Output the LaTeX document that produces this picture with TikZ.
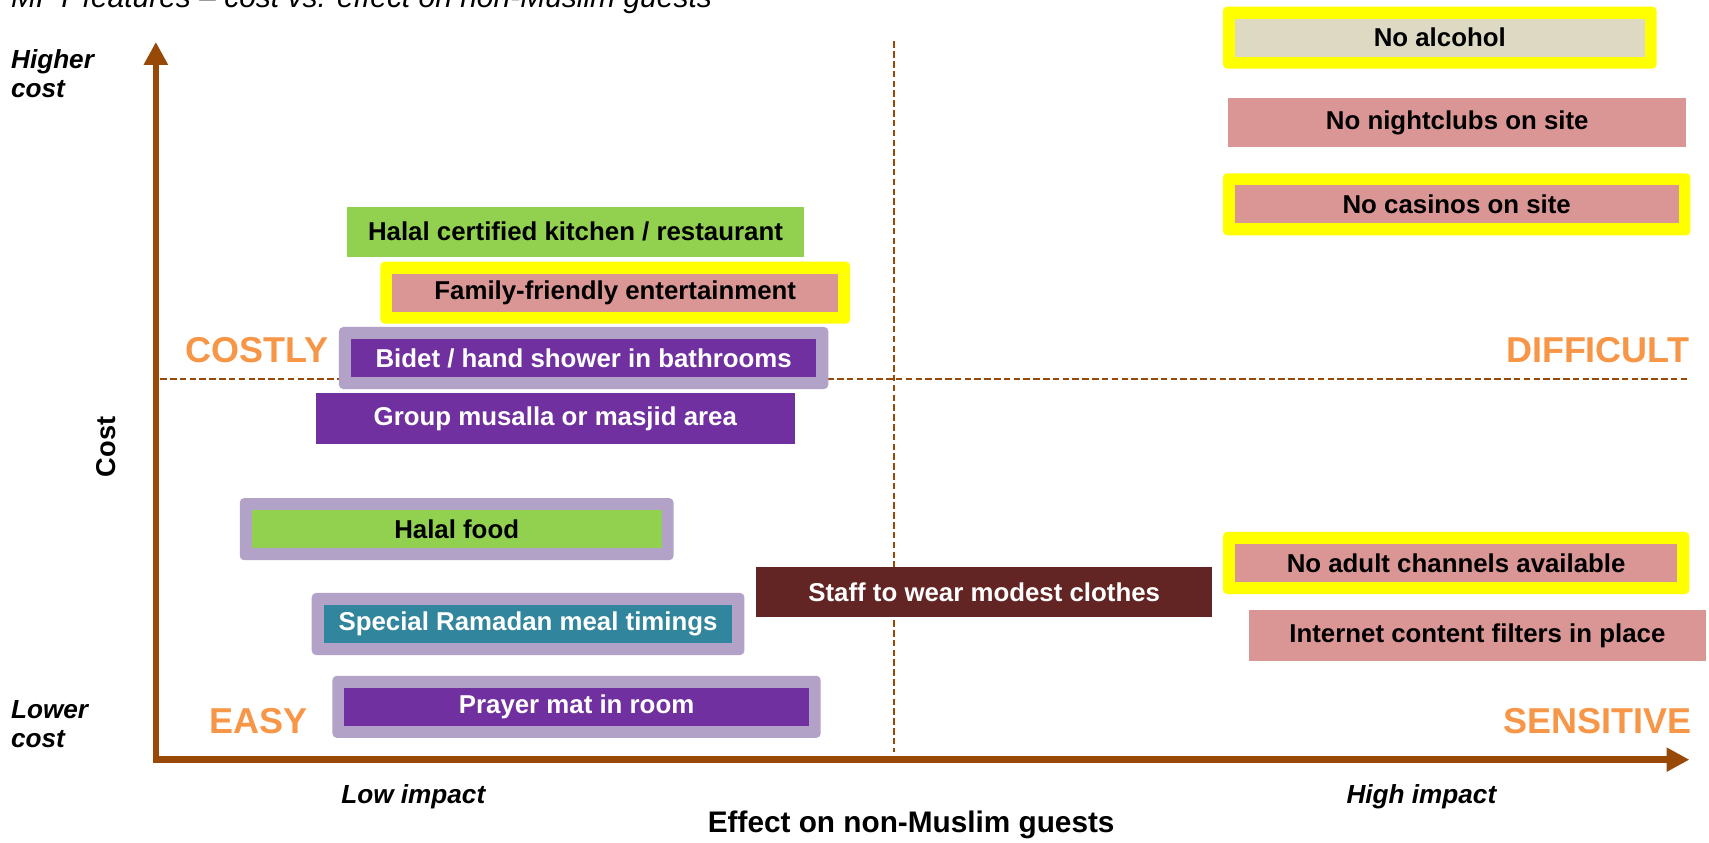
\documentclass[tikz,border=0pt]{standalone}
\usepackage{fontspec}
\setmainfont{Liberation Sans}
\usetikzlibrary{arrows.meta,fit}
\definecolor{axisbrown}{HTML}{984807}
\definecolor{quadorange}{HTML}{F79646}
\definecolor{beige}{HTML}{DDD9C3}
\definecolor{rose}{HTML}{D99694}
\definecolor{leaf}{HTML}{92D050}
\definecolor{violet}{HTML}{7030A0}
\definecolor{teal}{HTML}{31859C}
\definecolor{maroon}{HTML}{632523}
\definecolor{lavender}{HTML}{B3A2C7}
\definecolor{marker}{HTML}{FFFF00}
\pgfdeclarelayer{guides}
\pgfdeclarelayer{frames}
\pgfsetlayers{guides,frames,main}
\tikzset{
  item/.style={rectangle, inner sep=0, outer sep=0, text=black,
    font=\bfseries\fontsize{23.7}{28}\selectfont},
  light/.style={text=white},
  yframe/.style={rectangle, fill=marker, rounded corners=4, inner sep=11},
  lframe/.style={rectangle, fill=lavender, rounded corners=4, inner sep=11},
  quad/.style={inner sep=0, text=quadorange, font=\bfseries\fontsize{33}{39}\selectfont},
  side/.style={anchor=base west, inner sep=0, font=\bfseries\itshape\fontsize{24}{28}\selectfont},
  axis/.style={draw=axisbrown, line width=6, line join=miter,
    {Triangle[width=21pt,length=21pt]}-{Triangle[width=21pt,length=21pt]}},
  guide/.style={draw=axisbrown, line width=1.6, dash pattern=on 6pt off 3pt},
}
\begin{document}
\begin{tikzpicture}[x=1pt,y=-1pt]
\useasboundingbox (0,0) rectangle (1568,773);

% heading, cut by the top edge
\node[anchor=base west, inner sep=0, font=\itshape\fontsize{27.5}{33}\selectfont] (title) at (10,7)
  {MPT features – cost vs. effect on non-Muslim guests};

% quadrant guides
\coordinate (vtop) at (820,38);
\coordinate (vbot) at (820,690);
\coordinate (hleft) at (147,348);
\coordinate (hright) at (1550,348);
\begin{pgfonlayer}{guides}
  \draw[guide] (vtop) -- (vbot);
  \draw[guide] (hleft) -- (hright);
\end{pgfonlayer}

% axes
\coordinate (ytip) at (143,38.5);
\coordinate (origin) at (143,697);
\coordinate (xtip) at (1550,697);
\draw[axis] (ytip) -- (origin) -- (xtip);

% axis labels
\node[side] (hi1) at (10,63) {Higher};
\node[side] (hi2) at (10,89) {cost};
\node[side] (lo1) at (10,659) {Lower};
\node[side] (lo2) at (10,686) {cost};
\node[side] (lowimp) at (313,737) {Low impact};
\node[side, anchor=base east] (highimp) at (1373,737) {High impact};
\node[anchor=base, inner sep=0, font=\bfseries\fontsize{27.3}{32}\selectfont] (xlabel) at (836,764)
  {Effect on non-Muslim guests};
\node[rotate=90, inner sep=0, font=\bfseries\fontsize{25}{30}\selectfont] (ylabel) at (97,410) {Cost};

% quadrant names
\node[quad, anchor=base west] (costly) at (170,333) {COSTLY};
\node[quad, anchor=base east] (difficult) at (1550,333) {DIFFICULT};
\node[quad, anchor=base west] (easy) at (192,673) {EASY};
\node[quad, anchor=base east] (sensitive) at (1552,673) {SENSITIVE};

% features
\node[item, fill=beige, minimum width=376, minimum height=35] (alcohol) at (1321,34.5) {No alcohol};
\node[item, fill=rose, minimum width=420, minimum height=45] (night) at (1337,112.5) {No nightclubs on site};
\node[item, fill=rose, minimum width=407, minimum height=35] (casino) at (1336.5,187.5) {No casinos on site};
\node[item, fill=leaf, minimum width=420, minimum height=46] (kitchen) at (528,212.5) {Halal certified kitchen / restaurant};
\node[item, fill=rose, minimum width=409, minimum height=35] (family) at (564.5,268.5) {Family-friendly entertainment};
\node[item, light, fill=violet, minimum width=427, minimum height=35] (bidet) at (535.5,328.5) {Bidet / hand shower in bathrooms};
\node[item, light, fill=violet, minimum width=439, minimum height=46] (musalla) at (509.5,384) {Group musalla or masjid area};
\node[item, fill=leaf, minimum width=376, minimum height=35] (food) at (419,485.5) {Halal food};
\node[item, light, fill=teal, minimum width=375, minimum height=35] (ramadan) at (484.5,572.5) {Special Ramadan meal timings};
\node[item, light, fill=violet, minimum width=426, minimum height=35] (prayer) at (529,648.5) {Prayer mat in room};
\node[item, light, fill=maroon, minimum width=418, minimum height=46] (staff) at (903,543) {Staff to wear modest clothes};
\node[item, fill=rose, minimum width=406, minimum height=35] (adult) at (1336,516.5) {No adult channels available};
\node[item, fill=rose, minimum width=419, minimum height=46] (filters) at (1355.5,583) {Internet content filters in place};

% highlight frames
\begin{pgfonlayer}{frames}
  \node[yframe, fit=(alcohol)] (alcoholframe) {};
  \node[yframe, fit=(casino)] (casinoframe) {};
  \node[yframe, fit=(family)] (familyframe) {};
  \node[yframe, fit=(adult)] (adultframe) {};
  \node[lframe, fit=(bidet)] (bidetframe) {};
  \node[lframe, fit=(food)] (foodframe) {};
  \node[lframe, fit=(ramadan)] (ramadanframe) {};
  \node[lframe, fit=(prayer)] (prayerframe) {};
\end{pgfonlayer}
\end{tikzpicture}
\end{document}
